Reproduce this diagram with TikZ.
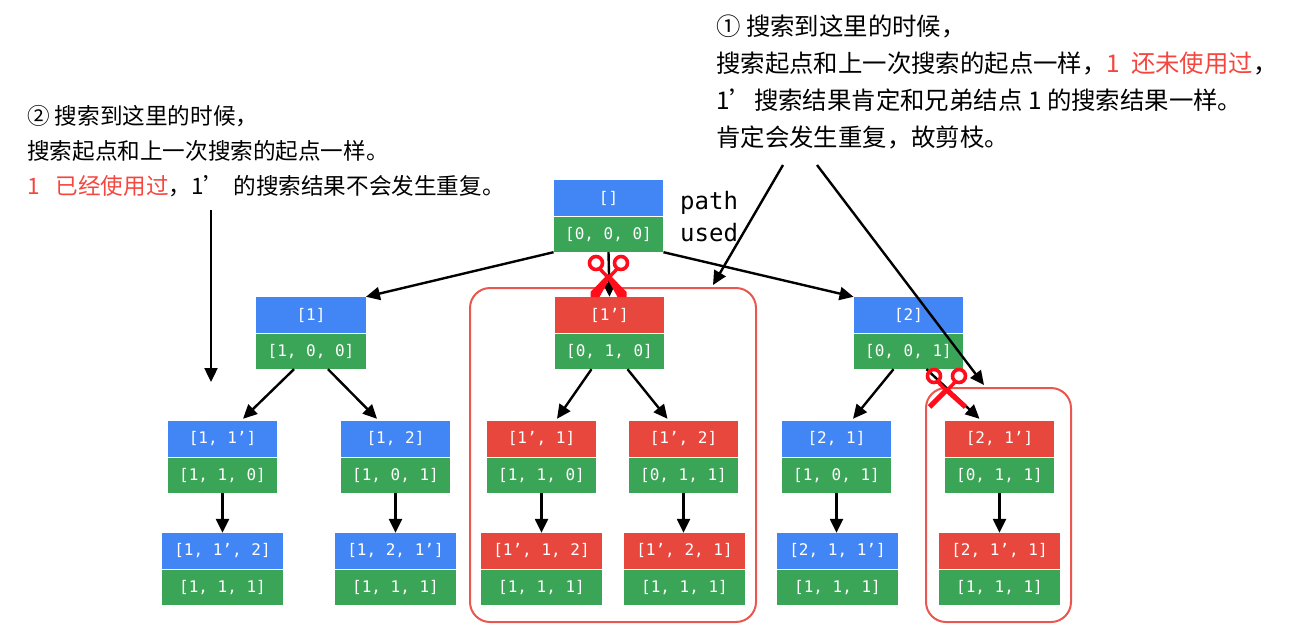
\documentclass[tikz,border=0pt]{standalone}
\usepackage{fontspec}
\setmainfont{Noto Sans CJK SC}
\newfontfamily\labelfont{DejaVu Sans Mono}
\usetikzlibrary{arrows.meta,calc}
\definecolor{boxblue}{HTML}{4285F4}
\definecolor{boxgreen}{HTML}{3AA457}
\definecolor{boxred}{HTML}{E8473D}
\definecolor{framered}{HTML}{E9574E}
\definecolor{textred}{HTML}{F4463F}
\definecolor{cutred}{HTML}{FF0D1B}
\newcommand{\treebox}[7]{%
  \node[pathbox, fill=#7, minimum width=#3pt] (#1p) at (#2,#4+18) {\raisebox{-2.3pt}{#5}};
  \node[usedbox, minimum width=#3pt] (#1u) at (#2,#4+54.5) {\raisebox{-2.3pt}{#6}};
}
\tikzset{
  pathbox/.style={rectangle, inner sep=0pt, minimum height=36pt, text=white,
    font=\labelfont\fontsize{16}{16}\selectfont},
  usedbox/.style={pathbox, fill=boxgreen, minimum height=35pt},
  conn/.style={draw=black, line width=2.4pt, -{Triangle[length=14pt,width=13pt]}},
  framebox/.style={rectangle, rounded corners=20pt, draw=framered, line width=2pt, inner sep=0pt},
  note/.style={anchor=north west, inner sep=0pt, align=left, text=black},
  monolabel/.style={anchor=west, inner sep=0pt, font=\labelfont\fontsize{24}{24}\selectfont},
  scissorrings/.pic={
    \draw[cutred, line width=3.6pt] (-12.5,-14) circle (6.5);
    \draw[cutred, line width=3.6pt] (12.5,-14) circle (6.5);
    \draw[cutred, line width=3.4pt] (-9,-8.5) -- (0,1);
    \draw[cutred, line width=3.4pt] (9,-8.5) -- (0,1);
  },
  scissorsflat/.pic={
    \pic {scissorrings};
    \fill[cutred] (-1.5,1) -- (0.5,-3) -- (18,15) -- (18,20) -- (9,20) -- cycle;
    \fill[cutred] (1.5,1) -- (-0.5,-3) -- (-18,15) -- (-18,20) -- (-9,20) -- cycle;
  },
  scissorslean/.pic={
    \pic {scissorrings};
    \draw[cutred, line width=5pt] (-1,-1) -- (19,17);
    \draw[cutred, line width=5pt] (1,-1) -- (-17,17);
  }
}
\begin{document}
\begin{tikzpicture}[x=1pt,y=-1pt]
\useasboundingbox (0,0) rectangle (1294,635);
% frames
\node[framebox, minimum width=286pt, minimum height=334pt] (f1) at (613,455) {};
\node[framebox, minimum width=145pt, minimum height=234pt] (f2) at (998.5,505) {};
% boxes
\treebox{r}{608.5}{109.5}{180}{[]}{[0, 0, 0]}{boxblue}
\treebox{a}{311}{109.5}{297}{[1]}{[1, 0, 0]}{boxblue}
\treebox{b}{609.5}{109.5}{297}{[1’]}{[0, 1, 0]}{boxred}
\treebox{c}{908.5}{109.5}{297}{[2]}{[0, 0, 1]}{boxblue}
\treebox{aa}{222.5}{109.5}{421}{[1, 1’]}{[1, 1, 0]}{boxblue}
\treebox{ab}{395.5}{109.5}{421}{[1, 2]}{[1, 0, 1]}{boxblue}
\treebox{ba}{541.5}{109.5}{421}{[1’, 1]}{[1, 1, 0]}{boxred}
\treebox{bb}{683.5}{109.5}{421}{[1’, 2]}{[0, 1, 1]}{boxred}
\treebox{ca}{836.5}{109.5}{421}{[2, 1]}{[1, 0, 1]}{boxblue}
\treebox{cb}{999.5}{109.5}{421}{[2, 1’]}{[0, 1, 1]}{boxred}
\treebox{aaa}{222.5}{121}{533}{[1, 1’, 2]}{[1, 1, 1]}{boxblue}
\treebox{aba}{395.5}{121}{533}{[1, 2, 1’]}{[1, 1, 1]}{boxblue}
\treebox{baa}{541.5}{121}{533}{[1’, 1, 2]}{[1, 1, 1]}{boxred}
\treebox{bba}{684.5}{121}{533}{[1’, 2, 1]}{[1, 1, 1]}{boxred}
\treebox{caa}{837.5}{121}{533}{[2, 1, 1’]}{[1, 1, 1]}{boxblue}
\treebox{cba}{999.5}{121}{533}{[2, 1’, 1]}{[1, 1, 1]}{boxred}
% tree connectors
\draw[conn] (ru.south west) -- (ap.north east);
\draw[conn] (ru.south) -- (bp.north);
\draw[conn] (ru.south east) -- (cp.north west);
\draw[conn] ($(au.south)+(-17,0)$) -- ($(aap.north)+(20.5,-2)$);
\draw[conn] ($(au.south)+(17,0)$) -- ($(abp.north)+(-18.5,-2)$);
\draw[conn] ($(bu.south)+(-18,0)$) -- ($(bap.north)+(15.5,-2)$);
\draw[conn] ($(bu.south)+(18,0)$) -- ($(bbp.north)+(-16,-2)$);
\draw[conn] ($(cu.south)+(-15,0)$) -- ($(cap.north)+(16.5,-2)$);
\draw[conn] ($(cu.south)+(18,0)$) -- ($(cbp.north)+(-20,-2)$);
\draw[conn] (aau.south) -- (aau.south |- aaap.north);
\draw[conn] (abu.south) -- (abu.south |- abap.north);
\draw[conn] (bau.south) -- (bau.south |- baap.north);
\draw[conn] (bbu.south) -- (bbu.south |- bbap.north);
\draw[conn] (cau.south) -- (cau.south |- caap.north);
\draw[conn] (cbu.south) -- (cbu.south |- cbap.north);
% labels
\node[monolabel] (plabel) at (680,203) {path};
\node[monolabel] (ulabel) at (680,233) {used};
% notes
\node[note, font=\fontsize{24.4}{37}\selectfont] (n1) at (716,15) {① 搜索到这里的时候，\\
搜索起点和上一次搜索的起点一样，{\color{textred}1\hspace{11pt}还未使用过}，\\
1’搜索结果肯定和兄弟结点 1 的搜索结果一样。\\
肯定会发生重复，故剪枝。};
\node[note, font=\fontsize{22.6}{35}\selectfont] (n2) at (27,105) {② 搜索到这里的时候，\\
搜索起点和上一次搜索的起点一样。\\
{\color{textred}1\hspace{16pt}已经使用过}，1’\hspace{7pt}的搜索结果不会发生重复。};
% long arrows
\coordinate (s1) at (783,165);
\coordinate (s2) at (817,165);
\coordinate (s3) at (211,210);
\coordinate (e3) at (211,382);
\draw[conn] (s1) -- ($(f1.north)+(100,-2)$);
\draw[conn] (s2) -- ($(f2.north)+(-14.5,-2)$);
\draw[conn] (s3) -- (e3);
% scissors
\pic at (608.5,277) {scissorsflat};
\pic at (946.5,390) {scissorslean};
\end{tikzpicture}
\end{document}
